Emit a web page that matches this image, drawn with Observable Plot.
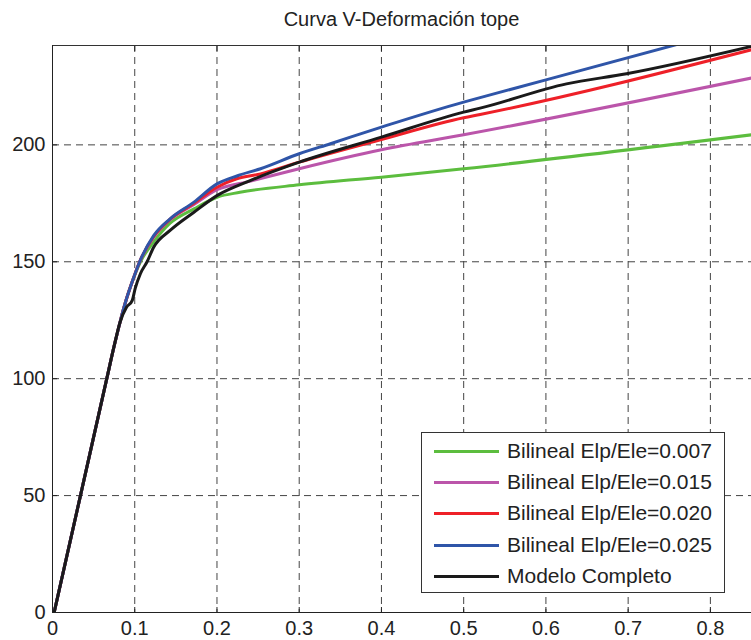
<!DOCTYPE html>
<html><head><meta charset="utf-8">
<script src="https://cdn.jsdelivr.net/npm/d3@7"></script>
<script src="https://cdn.jsdelivr.net/npm/@observablehq/plot@0.6"></script>
<style>
body{margin:0;background:#fff;font-family:"Liberation Sans",Arial,sans-serif;}
#wrap{position:relative;width:751px;height:640px;overflow:hidden;background:#fff;}
#title{position:absolute;left:52px;width:699px;top:7px;text-align:center;font-size:20px;color:#222;line-height:24px;}
#chart{position:absolute;left:0;top:40px;}
#legend{position:absolute;left:421px;top:432px;width:304px;height:161px;background:#fff;border:1px solid #333;box-sizing:border-box;}
.row{position:absolute;left:0;height:30px;width:100%;}
.sw{position:absolute;left:12px;width:65px;height:3px;top:13px;}
.lb{position:absolute;left:85px;top:0;font-size:21px;line-height:28px;color:#222;white-space:nowrap;}
</style></head>
<body><div id="wrap"><div id="title">Curva V-Deformación tope</div><div id="chart"></div><div id="legend"></div></div>
<script>
const seriesNames = ["Bilineal Elp/Ele=0.007","Bilineal Elp/Ele=0.015","Bilineal Elp/Ele=0.020","Bilineal Elp/Ele=0.025","Modelo Completo"];
const seriesColors = ["#5cbd3e","#bb55aa","#ee2028","#2f55a8","#1a1a1a"];

const xGreen = [0.002,0.066,0.075,0.082,0.089,0.0965,0.107,0.123,0.143,0.172,0.2,0.228,0.3,0.4,0.5,0.85];
const yGreen = [0,100,114,124,133,141,150,158.5,166.5,172.6,177.6,179.7,182.9,186.2,189.8,204.3];

const xMagenta = [0.002,0.066,0.075,0.082,0.089,0.0965,0.106,0.123,0.143,0.172,0.2,0.241,0.3,0.4,0.5,0.85];
const yMagenta = [0,100,114,124,133,141,150,160.5,168,174.5,180.8,184.5,189.8,197.9,204.3,228.6];

const xRed = [0.002,0.066,0.075,0.082,0.089,0.0965,0.106,0.123,0.143,0.172,0.2,0.224,0.253,0.3,0.4,0.5,0.52,0.85];
const yRed = [0,100,114,124,133,141,150,160.8,168.2,175,181.9,185.5,187.6,192.6,202.3,211.6,213,240.7];

const xBlue = [0.002,0.066,0.075,0.082,0.089,0.0965,0.106,0.123,0.143,0.172,0.2,0.225,0.253,0.3,0.338,0.4,0.5,0.52,0.76];
const yBlue = [0,100,114,124,133,141,150,161.2,168.4,175.5,183.3,186.8,189.8,196.2,200.5,207.6,218.3,220.2,243];

const xBlack = [0.002,0.066,0.075,0.082,0.09,0.097,0.1005,0.107,0.115,0.123,0.143,0.172,0.2,0.241,0.3,0.4,0.5,0.52,0.625,0.698,0.85];
const yBlack = [0,100,114,124,130.5,133.5,138.5,145,150,156.2,163.4,171.2,178.3,184.8,192.6,203.3,214,215.7,226.1,230.4,242.1];

const xTicks = [0,0.1,0.2,0.3,0.4,0.5,0.6,0.7,0.8];
const yTicks = [0,50,100,150,200];
const xGrid = [0.1,0.2,0.3,0.4,0.5,0.6,0.7,0.8];
const yGrid = [50,100,150,200];

const xs = [xGreen,xMagenta,xRed,xBlue,xBlack];
const ys = [yGreen,yMagenta,yRed,yBlue,yBlack];
const rows = [];
seriesNames.forEach((s,i)=>xs[i].forEach((x,j)=>rows.push({series:s,x,y:ys[i][j]})));

const fmt = d => d===0 ? "0" : d3.format(".1f")(d);
const chart = Plot.plot({
  width: 751, height: 600,
  marginLeft: 52, marginRight: 0, marginTop: 5, marginBottom: 28,
  style: {fontFamily: '"Liberation Sans", Arial, sans-serif', fontSize: "20px", color: "#222", background: "#fff"},
  x: {domain: [0, 0.85]},
  y: {domain: [0, 242.5]},
  color: {domain: seriesNames, range: seriesColors},
  marks: [
    Plot.gridX(xGrid, {stroke: "#444", strokeOpacity: 1, strokeDasharray: "7,5"}),
    Plot.gridY(yGrid, {stroke: "#444", strokeOpacity: 1, strokeDasharray: "7,5"}),
    Plot.lineY(rows, {x: "x", y: "y", z: "series", stroke: "series", strokeWidth: 3, curve: "monotone-x", clip: true}),
    Plot.ruleY([0], {stroke: "#222"}),
    Plot.ruleY([242.5], {stroke: "#333"}),
    Plot.ruleX([0], {stroke: "#222"}),
    Plot.axisX(xTicks, {anchor: "bottom", tickSize: 0, tickPadding: 8, tickFormat: fmt, fontSize: 20, label: null}),
    Plot.axisX(xTicks, {anchor: "bottom", tickSize: -5, text: null, label: null}),
    Plot.axisX(xTicks, {anchor: "top", tickSize: -5, text: null, label: null}),
    Plot.axisY(yTicks, {anchor: "left", tickSize: 0, tickPadding: 7, fontSize: 20, label: null}),
    Plot.axisY(yTicks, {anchor: "left", tickSize: -5, text: null, label: null})
  ]
});
document.getElementById("chart").appendChild(chart);

const leg = document.getElementById("legend");
seriesNames.forEach((s,i)=>{
  const r = document.createElement("div");
  r.className = "row";
  r.style.top = (4 + i*31.2) + "px";
  const sw = document.createElement("div");
  sw.className = "sw"; sw.style.background = seriesColors[i];
  const lb = document.createElement("div");
  lb.className = "lb"; lb.textContent = s;
  r.appendChild(sw); r.appendChild(lb); leg.appendChild(r);
});
</script>
</body></html>
